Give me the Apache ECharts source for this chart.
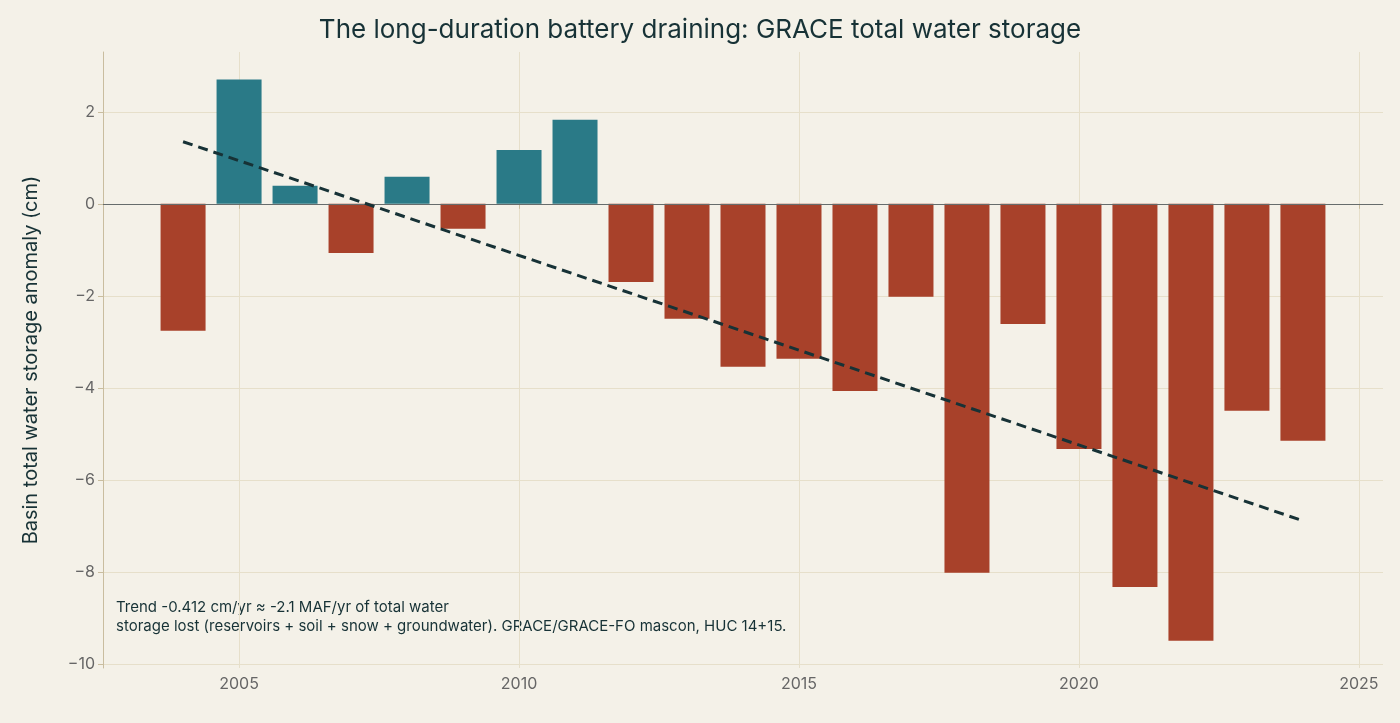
<!DOCTYPE html>
<html><head><meta charset="utf-8">
<script src="https://cdn.jsdelivr.net/npm/echarts@6/dist/echarts.min.js"></script>
<style>html,body{margin:0;background:#f4f1e8}#c{width:1400px;height:723px}</style></head>
<body><div id="c"></div><script>
const years=[2004,2005,2006,2007,2008,2009,2010,2011,2012,2013,2014,2015,2016,2017,2018,2019,2020,2021,2022,2023,2024];
const anomaly=[-2.76,2.70,0.39,-1.07,0.59,-0.54,1.17,1.83,-1.70,-2.50,-3.54,-3.37,-4.07,-2.02,-8.02,-2.61,-5.33,-8.33,-9.50,-4.50,-5.15];
const trendX=[2004,2024];
const trendY=[1.35,-6.89];
const font='Inter, "Noto Sans", sans-serif';
const ch=echarts.init(document.getElementById('c'));
ch.setOption({
backgroundColor:'#f4f1e8',
title:{text:'The long-duration battery draining: GRACE total water storage',left:'center',top:12,textStyle:{fontFamily:font,fontSize:26,fontWeight:'normal',color:'#173236'}},
grid:{left:103,right:17,top:52,bottom:55},
xAxis:{type:'value',min:2002.57,max:2025.43,interval:5,
 axisLabel:{fontFamily:font,fontSize:16,color:'#666',formatter:v=>v%5===0?String(v):'',customValues:[2005,2010,2015,2020,2025]},
 axisTick:{customValues:[2005,2010,2015,2020,2025],lineStyle:{color:'#c9bd9f'}},
 axisLine:{lineStyle:{color:'#c9bd9f'}},
 splitLine:{show:true,lineStyle:{color:'#e6dfca'}}},
yAxis:{type:'value',min:-10.09,max:3.3,
 name:'Basin total water storage anomaly (cm)',nameLocation:'middle',nameGap:62,nameTextStyle:{fontFamily:font,fontSize:20,color:'#173236'},
 axisLabel:{fontFamily:font,fontSize:16,color:'#666',formatter:v=>v<0?'\u2212'+(-v):String(v),customValues:[-10,-8,-6,-4,-2,0,2]},
 axisTick:{show:true,customValues:[-10,-8,-6,-4,-2,0,2],lineStyle:{color:'#c9bd9f'}},
 axisLine:{show:true,lineStyle:{color:'#c9bd9f'}},
 splitLine:{show:true,lineStyle:{color:'#e6dfca'}}},
series:[
{type:'bar',barWidth:45,data:years.map((y,i)=>({value:[y,anomaly[i]],itemStyle:{color:anomaly[i]>=0?'#2a7a87':'#a8412a'}})),
 markLine:{silent:true,symbol:'none',label:{show:false},lineStyle:{color:'#666c6c',type:'solid',width:1.2},data:[{yAxis:0}]}},
{type:'line',data:trendX.map((x,i)=>[x,trendY[i]]),symbol:'none',lineStyle:{color:'#173236',width:3,type:[10,6]},z:5}
],
graphic:[{type:'text',left:116,top:598,style:{text:'Trend -0.412 cm/yr \u2248 -2.1 MAF/yr of total water\nstorage lost (reservoirs + soil + snow + groundwater). GRACE/GRACE-FO mascon, HUC 14+15.',font:'15px '+font,fill:'#173236',lineHeight:19}}]
});
</script></body></html>
